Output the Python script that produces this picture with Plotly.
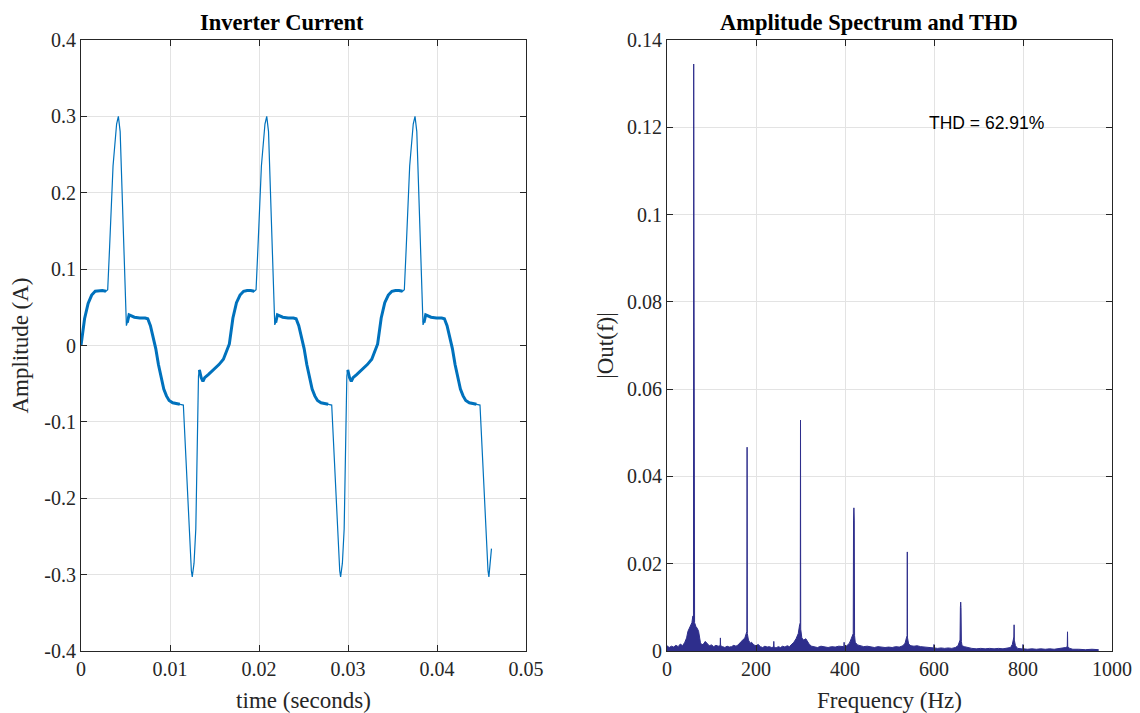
import plotly.graph_objects as go

# ---------------- Inverter current (time domain) ----------------
time_p1 = [0.00000, 0.00040, 0.00080, 0.00120, 0.00160, 0.00200, 0.00240, 0.00280, 0.00300,
           0.00320, 0.00360, 0.00400, 0.00420, 0.00440, 0.00460, 0.00490, 0.00510,
           0.00520, 0.00540, 0.00600, 0.00660, 0.00720, 0.00750, 0.00780, 0.00810, 0.00840,
           0.00870, 0.00900, 0.00930, 0.00960, 0.00990, 0.01030, 0.01070, 0.01110, 0.01150,
           0.01180, 0.01210, 0.01240, 0.01250, 0.01270, 0.01290, 0.01310, 0.01320, 0.01330,
           0.01350, 0.01370, 0.01390, 0.01430, 0.01470, 0.01510, 0.01550, 0.01600, 0.01630]
current_p1 = [0.000, 0.035, 0.055, 0.066, 0.071, 0.072, 0.072, 0.071, 0.073,
              0.125, 0.235, 0.290, 0.300, 0.280, 0.210, 0.090, 0.026,
              0.030, 0.040, 0.037, 0.036, 0.036, 0.035, 0.026, 0.010, -0.004,
              -0.025, -0.042, -0.057, -0.066, -0.072, -0.075, -0.076, -0.077, -0.078,
              -0.150, -0.230, -0.295, -0.303, -0.285, -0.240, -0.120, -0.040, -0.032,
              -0.042, -0.047, -0.042, -0.038, -0.034, -0.030, -0.025, -0.018, -0.008]

time_p2 = [0.01667, 0.01707, 0.01747, 0.01787, 0.01827, 0.01867, 0.01907, 0.01947, 0.01967,
           0.01987, 0.02027, 0.02067, 0.02087, 0.02107, 0.02127, 0.02157, 0.02177,
           0.02187, 0.02207, 0.02267, 0.02327, 0.02387, 0.02417, 0.02447, 0.02477, 0.02507,
           0.02537, 0.02567, 0.02597, 0.02627, 0.02657, 0.02697, 0.02737, 0.02777, 0.02817,
           0.02847, 0.02877, 0.02907, 0.02917, 0.02937, 0.02957, 0.02977, 0.02987, 0.02997,
           0.03017, 0.03037, 0.03057, 0.03097, 0.03137, 0.03177, 0.03217, 0.03267, 0.03297]
current_p2 = [0.002, 0.036, 0.056, 0.066, 0.071, 0.072, 0.072, 0.071, 0.073,
              0.125, 0.235, 0.290, 0.300, 0.280, 0.210, 0.090, 0.027,
              0.030, 0.040, 0.037, 0.036, 0.036, 0.035, 0.026, 0.010, -0.004,
              -0.025, -0.042, -0.057, -0.066, -0.072, -0.075, -0.076, -0.077, -0.078,
              -0.150, -0.230, -0.295, -0.303, -0.285, -0.240, -0.120, -0.040, -0.032,
              -0.042, -0.047, -0.042, -0.038, -0.034, -0.030, -0.025, -0.018, -0.008]

time_p3 = [0.03333, 0.03373, 0.03413, 0.03453, 0.03493, 0.03533, 0.03573, 0.03613, 0.03633,
           0.03653, 0.03693, 0.03733, 0.03753, 0.03773, 0.03793, 0.03823, 0.03843,
           0.03853, 0.03873, 0.03933, 0.03993, 0.04053, 0.04083, 0.04113, 0.04143, 0.04173,
           0.04203, 0.04233, 0.04263, 0.04293, 0.04323, 0.04363, 0.04403, 0.04443, 0.04483,
           0.04513, 0.04543, 0.04573, 0.04583, 0.04600, 0.04612]
current_p3 = [0.002, 0.036, 0.056, 0.066, 0.071, 0.072, 0.072, 0.071, 0.073,
              0.125, 0.235, 0.290, 0.300, 0.280, 0.210, 0.090, 0.027,
              0.030, 0.040, 0.037, 0.036, 0.036, 0.035, 0.026, 0.010, -0.004,
              -0.025, -0.042, -0.057, -0.066, -0.072, -0.075, -0.076, -0.077, -0.078,
              -0.150, -0.230, -0.295, -0.303, -0.285, -0.266]

time_s = time_p1 + time_p2 + time_p3
current_a = current_p1 + current_p2 + current_p3

# ---------------- Amplitude spectrum ----------------
freq_hz = [0, 5, 10, 15, 20, 25, 30, 35, 40, 44, 47, 50, 53, 56, 58, 59.5, 60, 60.5, 62, 65,
           68, 71, 73, 75, 78, 82, 86, 90, 95, 100, 105, 110, 115, 119.5, 120, 120.5, 125, 130, 135, 140,
           145, 150, 155, 160, 165, 170, 175, 178, 179.5, 180, 180.5, 183, 187, 190, 195, 200, 205, 210, 215, 220,
           225, 230, 235, 239.5, 240, 240.5, 245, 250, 255, 260, 265, 270, 275, 280, 285, 290, 295, 298, 299.5, 300,
           300.5, 303, 307, 312, 316, 320, 325, 330, 338, 346, 354, 362, 370, 378, 386, 394, 397.5, 398, 398.5, 404,
           410, 414, 417, 418.5, 419.2, 420, 420.8, 421.5, 423, 428, 434, 442, 450, 458, 466, 474, 482, 490, 498, 506,
           514, 522, 530, 535, 538, 539.5, 540, 540.5, 543, 548, 555, 562, 570, 578, 586, 594, 599.5, 600, 600.5, 608,
           616, 624, 632, 640, 648, 654, 657, 658.5, 659.3, 660, 660.7, 661.5, 663, 668, 675, 685, 695, 705, 715, 725,
           735, 745, 755, 765, 772, 776, 778, 779.5, 780, 780.5, 783, 788, 796, 799.5, 800, 800.5, 810, 820, 830, 840,
           850, 860, 870, 880, 890, 896, 899.5, 900, 900.5, 905, 912, 925, 940, 955, 970]
out_mag = [0.0012, 0.0008, 0.0011, 0.0009, 0.0013, 0.0010, 0.0016, 0.0012, 0.0020, 0.0030, 0.0045, 0.0052, 0.0055, 0.0065, 0.0080, 0.0080, 0.1345, 0.0080, 0.0065, 0.0056,
           0.0052, 0.0045, 0.0035, 0.0020, 0.0014, 0.0016, 0.0022, 0.0018, 0.0012, 0.0014, 0.0010, 0.0013, 0.0011, 0.0012, 0.0030, 0.0012, 0.0010, 0.0008, 0.0011, 0.0009,
           0.0010, 0.0013, 0.0011, 0.0014, 0.0020, 0.0025, 0.0030, 0.0040, 0.0045, 0.0467, 0.0040, 0.0025, 0.0018, 0.0020, 0.0014, 0.0012, 0.0015, 0.0010, 0.0008, 0.0011,
           0.0009, 0.0010, 0.0008, 0.0009, 0.0022, 0.0009, 0.0007, 0.0010, 0.0008, 0.0011, 0.0009, 0.0012, 0.0010, 0.0014, 0.0020, 0.0028, 0.0040, 0.0060, 0.0065, 0.0529,
           0.0050, 0.0030, 0.0025, 0.0028, 0.0022, 0.0015, 0.0011, 0.0010, 0.0008, 0.0011, 0.0009, 0.0008, 0.0010, 0.0009, 0.0011, 0.0010, 0.0010, 0.0020, 0.0010, 0.0012,
           0.0018, 0.0028, 0.0035, 0.0040, 0.0300, 0.0328, 0.0300, 0.0035, 0.0020, 0.0014, 0.0012, 0.0010, 0.0011, 0.0009, 0.0008, 0.0010, 0.0009, 0.0008, 0.0009, 0.0008,
           0.0010, 0.0009, 0.0012, 0.0018, 0.0030, 0.0035, 0.0227, 0.0030, 0.0016, 0.0012, 0.0011, 0.0012, 0.0010, 0.0009, 0.0008, 0.0007, 0.0007, 0.0015, 0.0007, 0.0006,
           0.0007, 0.0006, 0.0007, 0.0006, 0.0008, 0.0012, 0.0020, 0.0025, 0.0100, 0.0112, 0.0100, 0.0022, 0.0012, 0.0010, 0.0008, 0.0006, 0.0005, 0.0006, 0.0005, 0.0006,
           0.0005, 0.0006, 0.0005, 0.0006, 0.0008, 0.0015, 0.0030, 0.0032, 0.0060, 0.0025, 0.0012, 0.0006, 0.0005, 0.0005, 0.0015, 0.0005, 0.0004, 0.0005, 0.0004, 0.0005,
           0.0004, 0.0005, 0.0004, 0.0005, 0.0006, 0.0008, 0.0010, 0.0044, 0.0010, 0.0006, 0.0004, 0.0004, 0.0003, 0.0004, 0.0003]

# ---------------- Tick labels ----------------
t_ticks = [0, 0.01, 0.02, 0.03, 0.04, 0.05]
t_ticktext = ["0", "0.01", "0.02", "0.03", "0.04", "0.05"]
a_ticks = [0.4, 0.3, 0.2, 0.1, 0, -0.1, -0.2, -0.3, -0.4]
a_ticktext = ["0.4", "0.3", "0.2", "0.1", "0", "-0.1", "-0.2", "-0.3", "-0.4"]
f_ticks = [0, 200, 400, 600, 800, 1000]
f_ticktext = ["0", "200", "400", "600", "800", "1000"]
m_ticks = [0, 0.02, 0.04, 0.06, 0.08, 0.1, 0.12, 0.14]
m_ticktext = ["0", "0.02", "0.04", "0.06", "0.08", "0.1", "0.12", "0.14"]

thd_text = "THD = 62.91%"

# The measured current has switching ripple on its slow parts: draw those parts with a
# thicker stroke (points whose neighbouring slopes are gentle), steep edges stay thin.
band_y = []
for k in range(len(time_s)):
    slopes = []
    if k > 0:
        slopes.append(abs((current_a[k] - current_a[k - 1]) / (time_s[k] - time_s[k - 1])))
    if k < len(time_s) - 1:
        slopes.append(abs((current_a[k + 1] - current_a[k]) / (time_s[k + 1] - time_s[k])))
    band_y.append(current_a[k] if max(slopes) < 110 else None)

W, H = 1140, 713
SERIF = "Liberation Serif, Times New Roman, serif"
AX = "#262626"
GRID = "#E3E3E3"
BLUE = "#0072BD"

fig = go.Figure()
fig.add_trace(go.Scatter(x=time_s, y=band_y, mode="lines", connectgaps=False,
                         line=dict(color=BLUE, width=3.0),
                         xaxis="x", yaxis="y", showlegend=False, hoverinfo="skip"))
fig.add_trace(go.Scatter(x=time_s, y=current_a, mode="lines",
                         line=dict(color=BLUE, width=1.2),
                         xaxis="x", yaxis="y", showlegend=False, hoverinfo="skip"))
fig.add_trace(go.Scatter(x=freq_hz, y=out_mag, mode="lines", fill="tozeroy",
                         fillcolor="#2E2E8C", line=dict(color="#2E2E8C", width=1),
                         xaxis="x2", yaxis="y2", showlegend=False, hoverinfo="skip"))

common = dict(showgrid=True, gridcolor=GRID, gridwidth=1, zeroline=False,
              showline=True, linecolor=AX, linewidth=1, mirror="ticks",
              ticks="inside", ticklen=6, tickcolor=AX, automargin=False,
              tickfont=dict(family=SERIF, size=20, color=AX))

y_dom = [1 - 651 / H, 1 - 40 / H]
fig.update_layout(
    width=W, height=H,
    margin=dict(l=0, r=0, t=0, b=0, autoexpand=False),
    paper_bgcolor="white", plot_bgcolor="white",
    xaxis=dict(domain=[81 / W, 526 / W], range=[0, 0.05], tickvals=t_ticks, ticktext=t_ticktext,
               title=dict(text="time (seconds)", font=dict(family=SERIF, size=23, color=AX), standoff=12),
               anchor="y", **common),
    yaxis=dict(domain=y_dom, range=[-0.4, 0.4], tickvals=a_ticks, ticktext=a_ticktext,
               title=dict(text="Amplitude (A)", font=dict(family=SERIF, size=23, color=AX), standoff=9),
               anchor="x", **common),
    xaxis2=dict(domain=[667 / W, 1112 / W], range=[0, 1000], tickvals=f_ticks, ticktext=f_ticktext,
                title=dict(text="Frequency (Hz)", font=dict(family=SERIF, size=23, color=AX), standoff=12),
                anchor="y2", **common),
    yaxis2=dict(domain=y_dom, range=[0, 0.14], tickvals=m_ticks, ticktext=m_ticktext,
                title=dict(text="|Out(f)|", font=dict(family=SERIF, size=23, color=AX), standoff=6),
                anchor="x2", **common),
    annotations=[
        dict(text="<b>Inverter Current</b>", x=282 / W, y=1 - 23 / H, xref="paper", yref="paper",
             xanchor="center", yanchor="middle", showarrow=False,
             font=dict(family=SERIF, size=22.5, color="black")),
        dict(text="<b>Amplitude Spectrum and THD</b>", x=869 / W, y=1 - 23 / H, xref="paper", yref="paper",
             xanchor="center", yanchor="middle", showarrow=False,
             font=dict(family=SERIF, size=22.5, color="black")),
        dict(text=thd_text, x=584, y=0.121, xref="x2", yref="y2",
             xanchor="left", yanchor="middle", showarrow=False,
             font=dict(family="Liberation Sans, Arial, sans-serif", size=17.5, color="black")),
    ],
)

fig.write_html("out.html")
